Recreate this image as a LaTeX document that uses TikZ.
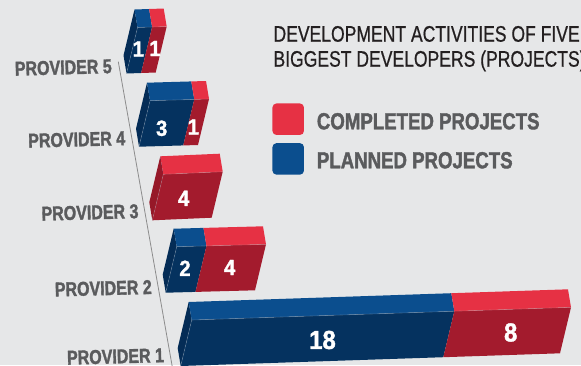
\documentclass[tikz,border=0pt]{standalone}
\usepackage{fontspec}
\setmainfont{Liberation Sans}
\newfontfamily\condbold[FakeStretch=0.8,FakeBold=1.6]{Liberation Sans Bold}
\newfontfamily\numbold[FakeStretch=0.92,FakeBold=1.4]{Liberation Sans Bold}
\newfontfamily\titlesans[FakeStretch=0.78,FakeBold=0.6]{Liberation Sans}
\usetikzlibrary{calc}
\definecolor{bg}{HTML}{E6E7E8}
\definecolor{topblue}{HTML}{0B4E8E}
\definecolor{frontblue}{HTML}{05325F}
\definecolor{sideblue}{HTML}{042C56}
\definecolor{topred}{HTML}{E63144}
\definecolor{frontred}{HTML}{A31B2D}
\definecolor{sidered}{HTML}{961828}
\definecolor{labelgray}{HTML}{5A5B5D}
\definecolor{titleblack}{HTML}{231F20}
\definecolor{axisgray}{HTML}{8C8C8C}
\tikzset{
  provlabel/.style={font=\condbold\fontsize{20}{20}\selectfont, text=labelgray, inner sep=0pt, rotate=1.5},
  numlabel/.style={font=\numbold\fontsize{22}{22}\selectfont, text=white, inner sep=0pt},
  biglabel/.style={font=\numbold\fontsize{26}{26}\selectfont, text=white, inner sep=0pt},
  legendtext/.style={font=\condbold\fontsize{23.3}{23.3}\selectfont, text=labelgray, inner sep=0pt, anchor=base west},
  titletext/.style={font=\titlesans\fontsize{22.5}{22.5}\selectfont, text=titleblack, inner sep=0pt, anchor=base west},
  swatch/.style={rounded corners=4pt, minimum width=31.5pt, minimum height=31.5pt, inner sep=0pt},
  edgelight/.style={white, opacity=0.22, line width=0.6pt},
  axisline/.style={axisgray, line width=0.8pt},
}
% #1 id, #2 front-top-left, #3 front-top-right, #4 blue fraction, #5 side colour
\newcommand\provbox[5]{%
  \coordinate (#1P) at (#2);
  \coordinate (#1R) at (#3);
  \coordinate (#1S) at ($(#1P)!#4!(#1R)$);
  \fill[#5] (#1P) -- ($(#1P)+(-3,-18)$) -- ($(#1P)+(-14,28)$) -- ($(#1P)+(-11,46)$) -- cycle;
  \fill[topblue] (#1P) -- (#1S) -- ($(#1S)+(-3,-18)$) -- ($(#1P)+(-3,-18)$) -- cycle;
  \fill[topred] (#1S) -- (#1R) -- ($(#1R)+(-3,-18)$) -- ($(#1S)+(-3,-18)$) -- cycle;
  \fill[frontblue] (#1P) -- (#1S) -- ($(#1S)+(-11,46)$) -- ($(#1P)+(-11,46)$) -- cycle;
  \fill[frontred] (#1S) -- (#1R) -- ($(#1R)+(-11,46)$) -- ($(#1S)+(-11,46)$) -- cycle;
  \draw[edgelight] ($(#1P)+(-11,46)$) -- (#1P) -- (#1R);
}
\begin{document}
\begin{tikzpicture}[x=1pt,y=-1pt]
\useasboundingbox (0,0) rectangle (581,365);
\clip (0,0) rectangle (581,365);
\fill[bg] (0,0) rectangle (581,365);

% axis
\coordinate (axtop) at (118.3,61.7);
\coordinate (axbot) at (172.5,368);
\draw[axisline] (axtop) -- (axbot);

% bars
\provbox{b5}{137.5,27.5}{166.7,26.5}{0.5}{sideblue}
\provbox{b4}{150,100.7}{209,99}{0.75}{sideblue}
\provbox{b3}{163.3,174.3}{222.7,171.7}{0}{sidered}
\provbox{b2}{176.7,246.7}{266,244.3}{0.3333}{sideblue}
\provbox{b1}{191.7,320}{571,307.3}{0.6923}{sideblue}

% numbers
\node[numlabel] (n5a) at (138.3,49) {1};
\node[numlabel] (n5b) at (155,48.5) {1};
\node[numlabel] (n4a) at (161.7,128.3) {3};
\node[numlabel] (n4b) at (193.3,127) {1};
\node[numlabel] (n3a) at (183.7,198.3) {4};
\node[numlabel] (n2a) at (185,268.3) {2};
\node[numlabel] (n2b) at (229.7,267.5) {4};
\node[biglabel] (n1a) at (322.5,340) {18};
\node[biglabel] (n1b) at (510.7,332.5) {8};

% provider labels
\node[provlabel] (l5) at (63.3,67.5) {PROVIDER 5};
\node[provlabel] (l4) at (76.7,139.5) {PROVIDER 4};
\node[provlabel] (l3) at (90,212.5) {PROVIDER 3};
\node[provlabel] (l2) at (103.3,288.3) {PROVIDER 2};
\node[provlabel] (l1) at (115.5,356.5) {PROVIDER 1};

% title
\node[titletext] (t1) at (273.3,41.7) {DEVELOPMENT ACTIVITIES OF FIVE};
\node[titletext] (t2) at (273.3,66.7) {BIGGEST DEVELOPERS (PROJECTS)};

% legend
\node[swatch, fill=topred] (swred) at (288.2,119.2) {};
\node[swatch, fill=topblue] (swblue) at (288.2,158.9) {};
\node[legendtext] (lg1) at (316.7,129.3) {COMPLETED PROJECTS};
\node[legendtext] (lg2) at (316.7,168.3) {PLANNED PROJECTS};
\end{tikzpicture}
\end{document}
